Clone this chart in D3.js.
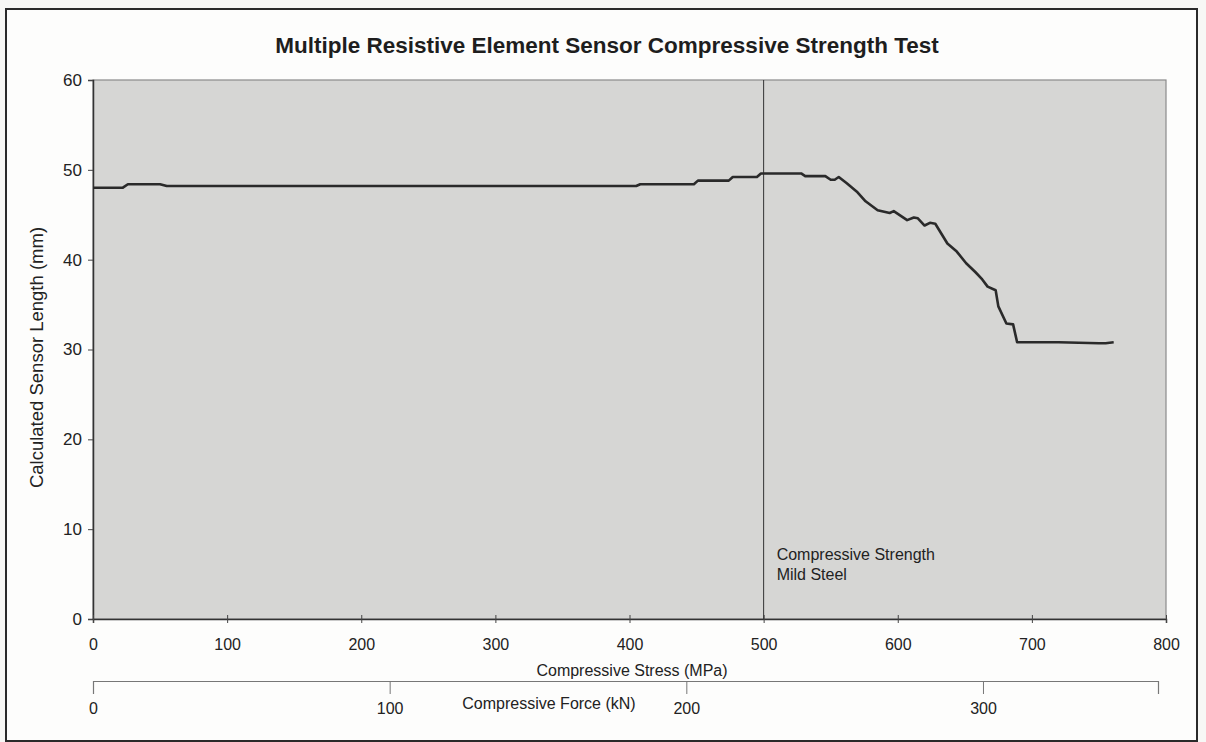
<!DOCTYPE html>
<html>
<head>
<meta charset="utf-8">
<script src="https://cdn.jsdelivr.net/npm/d3@7"></script>
<style>
  body { margin: 0; background: #f7f7f5; }
  svg { font-family: "Liberation Sans", Arial, sans-serif; }
</style>
</head>
<body>
<svg id="chart"></svg>
<script>
// readings
const stress = [0, 22, 26, 50, 55, 150, 300, 405, 408, 448, 451, 474, 477, 495, 498, 528, 531, 546, 550, 553,
                556, 562, 570, 576, 585, 594, 597, 602, 607, 612, 615, 620, 624, 628, 637, 644, 651, 658, 663, 667,
                673, 675, 681, 686, 689, 720, 750, 755, 761]
const sensorLength = [48.0, 48.0, 48.4, 48.4, 48.2, 48.2, 48.2, 48.2, 48.4, 48.4, 48.8, 48.8, 49.2, 49.2, 49.6, 49.6, 49.3, 49.3, 48.9, 48.9,
                      49.2, 48.5, 47.5, 46.5, 45.5, 45.2, 45.4, 44.9, 44.4, 44.7, 44.6, 43.8, 44.1, 44.0, 41.8, 40.9, 39.6, 38.6, 37.8, 37.0,
                      36.6, 34.8, 32.9, 32.8, 30.8, 30.8, 30.7, 30.7, 30.8]
const stressTicks = [0, 100, 200, 300, 400, 500, 600, 700, 800]
const lengthTicks = [0, 10, 20, 30, 40, 50, 60]
const forceTicks = [0, 100, 200, 300]
const forceMax = 359
const strengthStress = 500
const strengthLabel = ["Compressive Strength", "Mild Steel"]

class StrengthChart {

    margin = {
        top: 80, right: 40, bottom: 123, left: 93
    }

    constructor(svg, width=1206, height=742) {
        this.svg = svg;
        this.width = width;
        this.height = height;
    }

    initialize() {
        this.svg = d3.select(this.svg)
            .attr("width", this.width)
            .attr("height", this.height);

        this.plotW = this.width - this.margin.left - this.margin.right;
        this.plotH = this.height - this.margin.top - this.margin.bottom;

        this.x = d3.scaleLinear().domain([0, 800]).range([0, this.plotW]);
        this.y = d3.scaleLinear().domain([0, 60]).range([this.plotH, 0]);
        this.force = d3.scaleLinear().domain([0, forceMax]).range([0, this.plotW - 8]);

        // outer frame
        this.svg.append("rect")
            .attr("x", 6).attr("y", 9)
            .attr("width", 1191).attr("height", 732)
            .attr("fill", "#fdfdfc")
            .attr("stroke", "#2a2a2a")
            .attr("stroke-width", 2);

        this.svg.append("text")
            .attr("x", 607).attr("y", 53)
            .attr("text-anchor", "middle")
            .attr("font-size", "22.5px")
            .attr("font-weight", "bold")
            .attr("fill", "#1e1e1e")
            .text("Multiple Resistive Element Sensor Compressive Strength Test");

        this.container = this.svg.append("g")
            .attr("transform", `translate(${this.margin.left}, ${this.margin.top})`);

        // plot area
        this.container.append("rect")
            .attr("width", this.plotW).attr("height", this.plotH)
            .attr("fill", "#d6d6d4")
            .attr("stroke", "#8a8a8a")
            .attr("stroke-width", 1.2);

        // y axis
        const yAxis = this.container.append("g")
            .call(d3.axisLeft(this.y).tickValues(lengthTicks).tickSize(5).tickPadding(6));
        yAxis.selectAll("text").attr("font-size", "17px").attr("fill", "#222");
        yAxis.select(".domain").attr("stroke", "#333").attr("stroke-width", 1.5);
        yAxis.selectAll(".tick line").attr("stroke", "#444");

        // x axis with crossing ticks
        const xAxis = this.container.append("g")
            .attr("transform", `translate(0,${this.plotH})`)
            .call(d3.axisBottom(this.x).tickValues(stressTicks).tickSize(4).tickPadding(16));
        xAxis.selectAll(".tick line").attr("y1", -4).attr("stroke", "#444");
        xAxis.selectAll("text").attr("font-size", "16px").attr("fill", "#222");
        xAxis.select(".domain").attr("stroke", "#333").attr("stroke-width", 1.5);

        this.container.append("text")
            .attr("x", 539).attr("y", 57 + this.plotH)
            .attr("text-anchor", "middle")
            .attr("font-size", "16px")
            .attr("fill", "#222")
            .text("Compressive Stress (MPa)");

        this.container.append("text")
            .attr("transform", `translate(-50, ${this.plotH / 2 + 8}) rotate(-90)`)
            .attr("text-anchor", "middle")
            .attr("font-size", "18.5px")
            .attr("fill", "#222")
            .text("Calculated Sensor Length (mm)");

        // secondary force axis
        const fAxis = this.container.append("g")
            .attr("transform", `translate(0,${this.plotH + 62})`)
            .call(d3.axisBottom(this.force).tickValues(forceTicks).tickSize(13).tickPadding(9).tickSizeOuter(13));
        fAxis.select(".domain").attr("stroke", "#777").attr("stroke-width", 1.2);
        fAxis.selectAll(".tick line").attr("stroke", "#777");
        fAxis.selectAll("text").attr("font-size", "16px").attr("fill", "#222");

        this.container.append("text")
            .attr("x", 456).attr("y", this.plotH + 90)
            .attr("text-anchor", "middle")
            .attr("font-size", "16px")
            .attr("fill", "#222")
            .text("Compressive Force (kN)");

        // strength marker
        this.container.append("line")
            .attr("x1", this.x(strengthStress)).attr("x2", this.x(strengthStress))
            .attr("y1", 0).attr("y2", this.plotH)
            .attr("stroke", "#333")
            .attr("stroke-width", 1);

        this.container.selectAll(".note")
            .data(strengthLabel)
            .join("text")
            .attr("class", "note")
            .attr("x", this.x(strengthStress) + 13)
            .attr("y", (d, i) => this.y(7) + 4 + i * 20)
            .attr("font-size", "16px")
            .attr("fill", "#222")
            .text(d => d);

        // sensor length curve
        const pts = stress.map((s, i) => [s, sensorLength[i]]);
        this.container.append("path")
            .datum(pts)
            .attr("fill", "none")
            .attr("stroke", "#2a2a2a")
            .attr("stroke-width", 2.6)
            .attr("stroke-linejoin", "round")
            .attr("d", d3.line().x(d => this.x(d[0])).y(d => this.y(d[1])));
    }
}

const chart = new StrengthChart(document.getElementById("chart"));
chart.initialize();
</script>
</body>
</html>
